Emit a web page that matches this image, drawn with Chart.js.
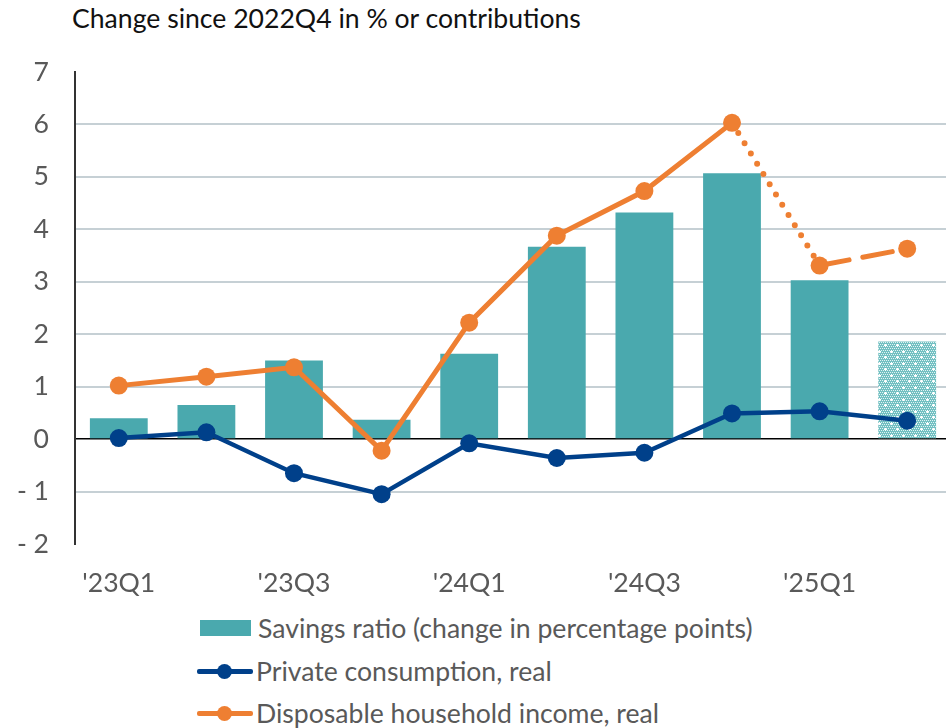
<!DOCTYPE html>
<html>
<head>
<meta charset="utf-8">
<script src="https://cdn.jsdelivr.net/npm/chart.js@4"></script>
<style>
  html, body { margin: 0; padding: 0; background: #fff; overflow: hidden; }
  body { width: 946px; height: 728px; position: relative; font-family: Lato, "Noto Sans", sans-serif; }
  #title { position: absolute; left: 72px; top: 2px; font-size: 26.6px; color: #111; white-space: nowrap; line-height: 32px; }
  #wrap { position: absolute; left: 0; top: 0; width: 960px; height: 600px; }
  #legend { position: absolute; left: 197px; top: 607px; font-size: 26.6px; color: #595959; }
  .row { height: 42.5px; line-height: 42.5px; display: flex; align-items: center; white-space: nowrap; }
  .sw { width: 51px; height: 16px; margin-right: 7px; display: inline-block; }
  .ln { width: 56px; height: 16px; margin-right: 3px; position: relative; display: inline-block; }
  .ln::before { content: ""; position: absolute; left: 0; right: 0; top: 6px; height: 5px; background: var(--c); border-radius: 2px; }
  .ln::after { content: ""; position: absolute; left: 20px; top: 1px; width: 15px; height: 15px; border-radius: 50%; background: var(--c); }
</style>
</head>
<body>
<div id="title">Change since 2022Q4 in % or contributions</div>
<div id="wrap"><canvas id="c" width="960" height="600"></canvas></div>
<div id="legend"></div>
<script>
const categories = ["'23Q1", "'23Q2", "'23Q3", "'23Q4", "'24Q1", "'24Q2", "'24Q3", "'24Q4", "'25Q1", "'25Q2"];
const savingsRatio = [0.40, 0.65, 1.50, 0.37, 1.63, 3.67, 4.32, 5.07, 3.03, 1.86];
const privateConsumption = [0.02, 0.13, -0.65, -1.05, -0.08, -0.36, -0.26, 0.49, 0.53, 0.35];
const disposableIncome = [1.02, 1.19, 1.37, -0.22, 2.22, 3.88, 4.73, 6.03, 3.31, 3.63];
const seriesNames = ["Savings ratio (change in percentage points)", "Private consumption, real", "Disposable household income, real"];
const yTicks = [-2, -1, 0, 1, 2, 3, 4, 5, 6, 7];
const forecastIndex = 9;

const TEAL = '#4aa9ae', BLUE = '#00408a', ORANGE = '#ee7f32';

function makePattern() {
  const t = document.createElement('canvas');
  t.width = 12; t.height = 12;
  const g = t.getContext('2d');
  g.fillStyle = '#72c0c2';
  g.fillRect(0, 0, 12, 12);
  g.fillStyle = '#e2f3f3';
  for (let x = 0; x < 12; x += 2) for (let y = 0; y < 12; y += 2) g.fillRect(x + ((y / 2) % 2), y, 1, 1);
  g.fillStyle = '#ffffff';
  [[3, 3], [9, 9]].forEach(([cx, cy]) => {
    g.fillRect(cx - 1, cy, 3, 1);
    g.fillRect(cx, cy - 1, 1, 3);
  });
  return document.getElementById('c').getContext('2d').createPattern(t, 'repeat');
}
const pattern = makePattern();

const font = { family: 'Lato, "Noto Sans", sans-serif', size: 26.6 };

new Chart(document.getElementById('c'), {
  data: {
    labels: categories,
    datasets: [
      {
        type: 'bar', label: seriesNames[0], data: savingsRatio, order: 3,
        backgroundColor: ctx => ctx.dataIndex === forecastIndex ? pattern : TEAL,
        barPercentage: 0.66, categoryPercentage: 1.0
      },
      {
        type: 'line', label: seriesNames[1], data: privateConsumption, order: 2,
        borderColor: BLUE, backgroundColor: BLUE, borderWidth: 4.5,
        pointRadius: 9, pointHoverRadius: 9, pointBorderWidth: 0, tension: 0
      },
      {
        type: 'line', label: seriesNames[2], data: disposableIncome, order: 1,
        borderColor: ORANGE, backgroundColor: ORANGE, borderWidth: 4.5,
        pointRadius: 9, pointHoverRadius: 9, pointBorderWidth: 0, tension: 0,
        segment: {
          borderDash: ctx => ctx.p0DataIndex === 7 ? [0, 12] : (ctx.p0DataIndex === 8 ? [30, 14] : undefined),
          borderWidth: ctx => ctx.p0DataIndex === 7 ? 6 : 5,
          borderCapStyle: ctx => ctx.p0DataIndex >= 7 ? 'round' : 'butt'
        }
      }
    ]
  },
  options: {
    responsive: false,
    animation: false,
    devicePixelRatio: 1,
    layout: { padding: { top: 72, right: 6, bottom: 0, left: 0 } },
    plugins: { legend: { display: false }, title: { display: false }, tooltip: { enabled: false } },
    scales: {
      x: {
        grid: { display: false },
        border: { display: false },
        ticks: {
          autoSkip: false, maxRotation: 0, padding: 15, color: '#595959', font,
          callback: (v, i) => i % 2 === 0 ? categories[i] : ''
        },
        afterFit: s => { s.height = 56; }
      },
      y: {
        min: yTicks[0], max: yTicks[yTicks.length - 1],
        afterBuildTicks: s => { s.ticks = yTicks.map(v => ({ value: v })); },
        border: { display: true, color: '#333', width: 2 },
        grid: {
          drawTicks: false,
          color: ctx => {
            const v = ctx.tick && ctx.tick.value;
            if (v === 0) return '#000';
            if (v === 7 || v === -2) return 'rgba(0,0,0,0)';
            return '#c6d0d5';
          },
          lineWidth: ctx => (ctx.tick && ctx.tick.value === 0) ? 1.5 : 2
        },
        ticks: {
          padding: 26, color: '#595959', font,
          callback: v => v < 0 ? '- ' + Math.abs(v) : String(v)
        },
        afterFit: s => { s.width = 75; }
      }
    }
  }
});

const legend = document.getElementById('legend');
const items = [
  { name: seriesNames[0], kind: 'bar', color: TEAL },
  { name: seriesNames[1], kind: 'line', color: BLUE },
  { name: seriesNames[2], kind: 'line', color: ORANGE }
];
items.forEach(it => {
  const row = document.createElement('div');
  row.className = 'row';
  const sym = document.createElement('span');
  if (it.kind === 'bar') { sym.className = 'sw'; sym.style.background = it.color; sym.style.marginLeft = '3px'; }
  else { sym.className = 'ln'; sym.style.setProperty('--c', it.color); }
  const tx = document.createElement('span');
  tx.textContent = it.name;
  row.appendChild(sym); row.appendChild(tx);
  legend.appendChild(row);
});
</script>
</body>
</html>
